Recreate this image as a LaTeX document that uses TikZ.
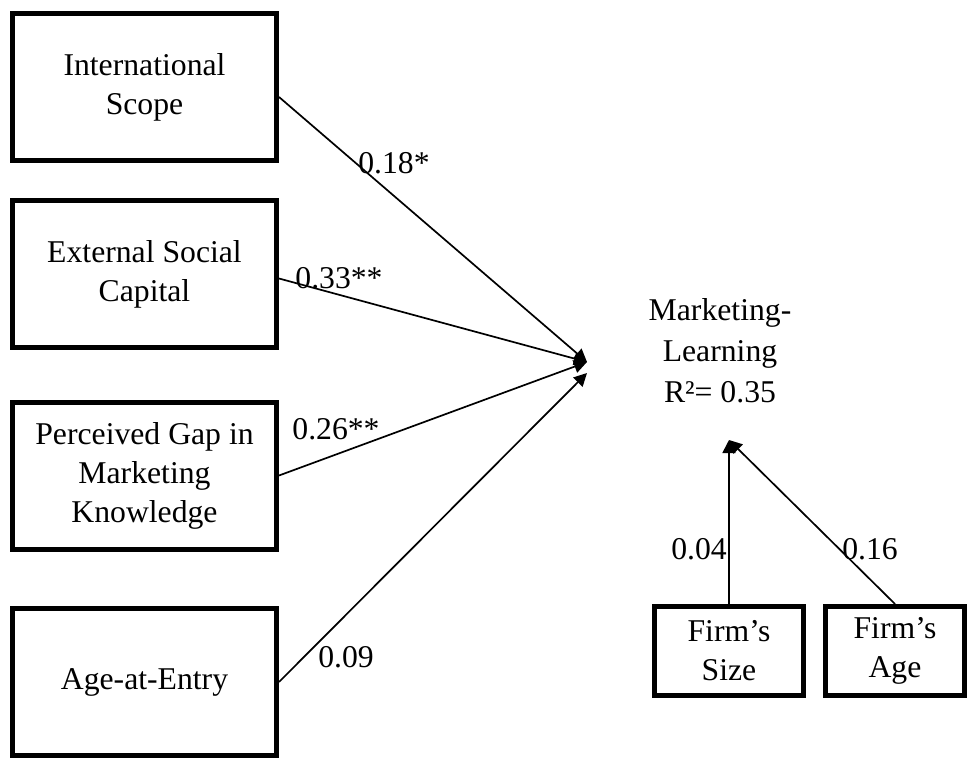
\documentclass[tikz,border=0pt]{standalone}
\usepackage{fontspec}
\setmainfont{Liberation Serif}
\usepackage{tikz}
\usetikzlibrary{positioning, arrows.meta}
\usepackage{xcolor}

\tikzset{
    varbox/.style={draw, line width=2.5pt, align=center, inner sep=0pt,
        minimum width=132pt, minimum height=73.5pt},
    ctrlbox/.style={draw, line width=2.5pt, align=center, inner sep=0pt,
        minimum height=44.5pt},
    path/.style={line width=0.85pt, -{Triangle[length=6.5pt, width=6.5pt]}},
    coef/.style={inner sep=0pt}
}

\begin{document}
\begin{tikzpicture}[x=0.5pt, y=-0.5pt, font=\fontsize{15.85pt}{19.5pt}\selectfont]
            \useasboundingbox (0,0) rectangle (967,758);
            % predictors
            \node[varbox] (scope) at (144.5,87) {International\\Scope};
            \node[varbox] (social) at (144.5,274.5) {External Social\\Capital};
            \node[varbox] (gap) at (144.5,475.5) {Perceived Gap in\\Marketing\\Knowledge};
            \node[varbox] (entry) at (144.5,682) {Age-at-Entry};
            % outcome
            \node[align=center, font=\fontsize{15.85pt}{20.5pt}\selectfont] (learn) at (720,351) {Marketing-\\Learning\\R²= 0.35};
            \coordinate (learnA) at (587,362);
            \coordinate (learnB) at (587,373);
            \coordinate (learnC) at (729,440);
            % controls
            \node[ctrlbox, minimum width=74.5pt] (size) at (729,651) {Firm’s\\Size};
            \node[ctrlbox, minimum width=69.5pt] (age) at (895,651) {Firm’s\\Age};
            % paths
            \draw[path] ([yshift=-5pt]scope.east) -- (learnA);
            \draw[path] ([yshift=-2pt]social.east) -- (learnA);
            \draw[path] (gap.east) -- (learnA);
            \draw[path] (entry.east) -- (learnB);
            \foreach \ctrl in {size, age}
            {
                \draw[path] (\ctrl.north) -- (learnC);
            }
            \node[coef] at (394,163) {0.18*};
            \node[coef] at (339,278) {0.33**};
            \node[coef] at (336,429) {0.26**};
            \node[coef] at (346,657) {0.09};
            \node[coef] at (699,549) {0.04};
            \node[coef] at (870,549) {0.16};
        \end{tikzpicture}
\end{document}
